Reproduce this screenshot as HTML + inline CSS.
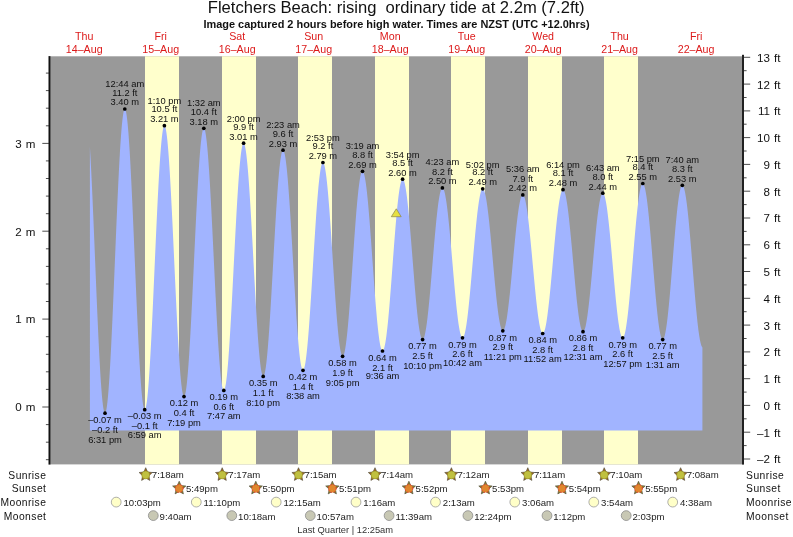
<!DOCTYPE html><html><head><meta charset="utf-8"><title>Fletchers Beach tide</title>
<style>html,body{margin:0;padding:0;background:#fff}svg{display:block;will-change:transform}text{font-family:"Liberation Sans",Arial,Helvetica,sans-serif}</style></head><body>
<svg width="793" height="537" viewBox="0 0 793 537">
<rect width="793" height="537" fill="#fff"/>
<rect x="50" y="56.3" width="692" height="408.1" fill="#999999"/>
<rect x="145.0" y="56.3" width="34.0" height="408.1" fill="#ffffcc"/>
<rect x="222.0" y="56.3" width="34.0" height="408.1" fill="#ffffcc"/>
<rect x="298.0" y="56.3" width="34.0" height="408.1" fill="#ffffcc"/>
<rect x="375.0" y="56.3" width="34.0" height="408.1" fill="#ffffcc"/>
<rect x="451.0" y="56.3" width="34.0" height="408.1" fill="#ffffcc"/>
<rect x="528.0" y="56.3" width="34.0" height="408.1" fill="#ffffcc"/>
<rect x="604.0" y="56.3" width="34.0" height="408.1" fill="#ffffcc"/>
<path d="M89.9 430.6 L89.9 146.7 L90.4 155.4 L90.9 164.8 L91.4 174.7 L91.9 185.2 L92.4 196.1 L92.9 207.5 L93.4 219.1 L93.9 231.0 L94.4 243.1 L94.9 255.3 L95.4 267.4 L95.9 279.6 L96.4 291.6 L96.9 303.4 L97.4 314.9 L97.9 326.1 L98.4 336.9 L98.9 347.2 L99.4 356.9 L99.9 366.0 L100.4 374.4 L100.9 382.2 L101.4 389.1 L101.9 395.2 L102.4 400.5 L102.9 404.9 L103.4 408.4 L103.9 411.0 L104.4 412.6 L104.9 413.2 L105.4 412.9 L105.9 411.6 L106.4 409.4 L106.9 406.3 L107.4 402.2 L107.9 397.3 L108.4 391.5 L108.9 384.8 L109.4 377.4 L109.9 369.3 L110.4 360.5 L110.9 351.1 L111.4 341.1 L111.9 330.6 L112.4 319.7 L112.9 308.3 L113.4 296.7 L113.9 284.9 L114.4 273.0 L114.9 260.9 L115.4 248.9 L115.9 236.9 L116.4 225.1 L116.9 213.5 L117.4 202.2 L117.9 191.3 L118.4 180.8 L118.9 170.8 L119.4 161.4 L119.9 152.6 L120.4 144.5 L120.9 137.2 L121.4 130.6 L121.9 124.8 L122.4 119.9 L122.9 115.9 L123.4 112.7 L123.9 110.6 L124.4 109.3 L124.9 109.0 L125.4 109.7 L125.9 111.3 L126.4 113.8 L126.9 117.2 L127.4 121.5 L127.9 126.7 L128.4 132.6 L128.9 139.4 L129.4 146.9 L129.9 155.1 L130.4 164.0 L130.9 173.5 L131.4 183.4 L131.9 193.9 L132.4 204.8 L132.9 216.0 L133.4 227.4 L133.9 239.1 L134.4 250.9 L134.9 262.8 L135.4 274.6 L135.9 286.3 L136.4 297.9 L136.9 309.2 L137.4 320.3 L137.9 330.9 L138.4 341.1 L138.9 350.8 L139.4 359.9 L139.9 368.4 L140.4 376.2 L140.9 383.3 L141.4 389.6 L141.9 395.1 L142.4 399.8 L142.9 403.6 L143.4 406.5 L143.9 408.5 L144.4 409.5 L144.9 409.7 L145.4 408.9 L145.9 407.2 L146.4 404.6 L146.9 401.2 L147.4 396.9 L147.9 391.8 L148.4 385.9 L148.9 379.3 L149.4 371.9 L149.9 363.9 L150.4 355.3 L150.9 346.1 L151.4 336.5 L151.9 326.3 L152.4 315.9 L152.9 305.1 L153.4 294.0 L153.9 282.8 L154.4 271.6 L154.9 260.2 L155.4 249.0 L155.9 237.8 L156.4 226.9 L156.9 216.2 L157.4 205.8 L157.9 195.8 L158.4 186.3 L158.9 177.3 L159.4 168.8 L159.9 161.0 L160.4 153.9 L160.9 147.5 L161.4 141.9 L161.9 137.0 L162.4 133.0 L162.9 129.8 L163.4 127.6 L163.9 126.2 L164.4 125.7 L164.9 126.1 L165.4 127.3 L165.9 129.5 L166.4 132.4 L166.9 136.2 L167.4 140.8 L167.9 146.2 L168.4 152.3 L168.9 159.1 L169.4 166.5 L169.9 174.6 L170.4 183.2 L170.9 192.3 L171.4 201.9 L171.9 211.8 L172.4 222.1 L172.9 232.6 L173.4 243.3 L173.9 254.1 L174.4 265.0 L174.9 275.8 L175.4 286.5 L175.9 297.1 L176.4 307.4 L176.9 317.5 L177.4 327.1 L177.9 336.4 L178.4 345.2 L178.9 353.4 L179.4 361.1 L179.9 368.1 L180.4 374.4 L180.9 380.0 L181.4 384.8 L181.9 388.8 L182.4 392.0 L182.9 394.4 L183.4 395.9 L183.9 396.6 L184.4 396.3 L184.9 395.3 L185.4 393.4 L185.9 390.7 L186.4 387.2 L186.9 382.9 L187.4 377.8 L187.9 372.0 L188.4 365.6 L188.9 358.4 L189.4 350.7 L189.9 342.4 L190.4 333.7 L190.9 324.4 L191.4 314.8 L191.9 304.9 L192.4 294.7 L192.9 284.3 L193.4 273.7 L193.9 263.1 L194.4 252.5 L194.9 241.9 L195.4 231.5 L195.9 221.2 L196.4 211.3 L196.9 201.6 L197.4 192.3 L197.9 183.5 L198.4 175.1 L198.9 167.4 L199.4 160.2 L199.9 153.6 L200.4 147.7 L200.9 142.6 L201.4 138.2 L201.9 134.6 L202.4 131.8 L202.9 129.8 L203.4 128.6 L203.9 128.3 L204.4 128.8 L204.9 130.1 L205.4 132.3 L205.9 135.2 L206.4 138.9 L206.9 143.3 L207.4 148.5 L207.9 154.3 L208.4 160.8 L208.9 167.9 L209.4 175.6 L209.9 183.8 L210.4 192.5 L210.9 201.6 L211.4 211.0 L211.9 220.8 L212.4 230.7 L212.9 240.9 L213.4 251.2 L213.9 261.5 L214.4 271.8 L214.9 282.1 L215.4 292.2 L215.9 302.1 L216.4 311.7 L216.9 321.0 L217.4 329.9 L217.9 338.4 L218.4 346.4 L218.9 353.8 L219.4 360.7 L219.9 366.9 L220.4 372.5 L220.9 377.4 L221.4 381.5 L221.9 384.9 L222.4 387.5 L222.9 389.2 L223.4 390.2 L223.9 390.4 L224.4 389.8 L224.9 388.4 L225.4 386.3 L225.9 383.4 L226.4 379.7 L226.9 375.4 L227.4 370.4 L227.9 364.7 L228.4 358.4 L228.9 351.6 L229.4 344.2 L229.9 336.3 L230.4 328.0 L230.9 319.3 L231.4 310.2 L231.9 300.9 L232.4 291.4 L232.9 281.7 L233.4 272.0 L233.9 262.2 L234.4 252.4 L234.9 242.7 L235.4 233.2 L235.9 223.9 L236.4 214.8 L236.9 206.1 L237.4 197.8 L237.9 189.9 L238.4 182.5 L238.9 175.6 L239.4 169.3 L239.9 163.6 L240.4 158.5 L240.9 154.1 L241.4 150.5 L241.9 147.5 L242.4 145.3 L242.9 143.9 L243.4 143.3 L243.9 143.4 L244.4 144.2 L244.9 145.8 L245.4 148.2 L245.9 151.2 L246.4 154.9 L246.9 159.4 L247.4 164.4 L247.9 170.1 L248.4 176.3 L248.9 183.0 L249.4 190.3 L249.9 198.0 L250.4 206.1 L250.9 214.5 L251.4 223.2 L251.9 232.2 L252.4 241.3 L252.9 250.6 L253.4 259.9 L253.9 269.2 L254.4 278.4 L254.9 287.6 L255.4 296.5 L255.9 305.2 L256.4 313.7 L256.9 321.8 L257.4 329.5 L257.9 336.7 L258.4 343.4 L258.9 349.7 L259.4 355.3 L259.9 360.4 L260.4 364.7 L260.9 368.5 L261.4 371.5 L261.9 373.8 L262.4 375.4 L262.9 376.3 L263.4 376.4 L263.9 375.8 L264.4 374.5 L264.9 372.4 L265.4 369.7 L265.9 366.4 L266.4 362.4 L266.9 357.7 L267.4 352.5 L267.9 346.7 L268.4 340.4 L268.9 333.6 L269.4 326.4 L269.9 318.7 L270.4 310.8 L270.9 302.5 L271.4 293.9 L271.9 285.2 L272.4 276.4 L272.9 267.4 L273.4 258.5 L273.9 249.5 L274.4 240.7 L274.9 232.0 L275.4 223.5 L275.9 215.2 L276.4 207.3 L276.9 199.7 L277.4 192.5 L277.9 185.7 L278.4 179.4 L278.9 173.7 L279.4 168.5 L279.9 163.9 L280.4 160.0 L280.9 156.7 L281.4 154.0 L281.9 152.1 L282.4 150.8 L282.9 150.3 L283.4 150.4 L283.9 151.2 L284.4 152.8 L284.9 154.9 L285.4 157.8 L285.9 161.3 L286.4 165.4 L286.9 170.0 L287.4 175.3 L287.9 181.0 L288.4 187.3 L288.9 194.0 L289.4 201.2 L289.9 208.6 L290.4 216.5 L290.9 224.5 L291.4 232.9 L291.9 241.3 L292.4 249.9 L292.9 258.6 L293.4 267.3 L293.9 275.9 L294.4 284.4 L294.9 292.8 L295.4 301.0 L295.9 308.9 L296.4 316.5 L296.9 323.8 L297.4 330.7 L297.9 337.1 L298.4 343.1 L298.9 348.5 L299.4 353.4 L299.9 357.8 L300.4 361.5 L300.9 364.5 L301.4 367.0 L301.9 368.8 L302.4 369.9 L302.9 370.3 L303.4 370.0 L303.9 369.1 L304.4 367.6 L304.9 365.4 L305.4 362.7 L305.9 359.3 L306.4 355.3 L306.9 350.8 L307.4 345.8 L307.9 340.3 L308.4 334.3 L308.9 327.9 L309.4 321.1 L309.9 313.9 L310.4 306.5 L310.9 298.8 L311.4 291.0 L311.9 282.9 L312.4 274.8 L312.9 266.6 L313.4 258.4 L313.9 250.3 L314.4 242.3 L314.9 234.4 L315.4 226.7 L315.9 219.3 L316.4 212.1 L316.9 205.3 L317.4 198.9 L317.9 192.9 L318.4 187.3 L318.9 182.3 L319.4 177.7 L319.9 173.7 L320.4 170.3 L320.9 167.5 L321.4 165.3 L321.9 163.7 L322.4 162.8 L322.9 162.5 L323.4 162.8 L323.9 163.8 L324.4 165.3 L324.9 167.5 L325.4 170.2 L325.9 173.5 L326.4 177.3 L326.9 181.7 L327.4 186.5 L327.9 191.8 L328.4 197.5 L328.9 203.7 L329.4 210.1 L329.9 216.9 L330.4 224.0 L330.9 231.2 L331.4 238.7 L331.9 246.3 L332.4 253.9 L332.9 261.6 L333.4 269.3 L333.9 276.9 L334.4 284.4 L334.9 291.8 L335.4 298.9 L335.9 305.8 L336.4 312.4 L336.9 318.7 L337.4 324.6 L337.9 330.1 L338.4 335.1 L338.9 339.7 L339.4 343.7 L339.9 347.2 L340.4 350.2 L340.9 352.6 L341.4 354.4 L341.9 355.6 L342.4 356.2 L342.9 356.2 L343.4 355.6 L343.9 354.4 L344.4 352.7 L344.9 350.4 L345.4 347.5 L345.9 344.2 L346.4 340.3 L346.9 336.0 L347.4 331.2 L347.9 326.0 L348.4 320.4 L348.9 314.4 L349.4 308.2 L349.9 301.6 L350.4 294.8 L350.9 287.9 L351.4 280.7 L351.9 273.5 L352.4 266.2 L352.9 258.9 L353.4 251.6 L353.9 244.4 L354.4 237.3 L354.9 230.4 L355.4 223.7 L355.9 217.2 L356.4 211.1 L356.9 205.2 L357.4 199.8 L357.9 194.7 L358.4 190.0 L358.9 185.9 L359.4 182.2 L359.9 179.0 L360.4 176.3 L360.9 174.2 L361.4 172.7 L361.9 171.7 L362.4 171.3 L362.9 171.4 L363.4 172.2 L363.9 173.4 L364.4 175.2 L364.9 177.6 L365.4 180.4 L365.9 183.7 L366.4 187.6 L366.9 191.8 L367.4 196.5 L367.9 201.6 L368.4 207.1 L368.9 212.9 L369.4 219.0 L369.9 225.3 L370.4 231.9 L370.9 238.6 L371.4 245.5 L371.9 252.5 L372.4 259.5 L372.9 266.6 L373.4 273.6 L373.9 280.5 L374.4 287.3 L374.9 294.0 L375.4 300.4 L375.9 306.7 L376.4 312.6 L376.9 318.2 L377.4 323.5 L377.9 328.3 L378.4 332.8 L378.9 336.8 L379.4 340.4 L379.9 343.5 L380.4 346.0 L380.9 348.1 L381.4 349.6 L381.9 350.6 L382.4 351.0 L382.9 350.8 L383.4 350.2 L383.9 349.0 L384.4 347.3 L384.9 345.1 L385.4 342.4 L385.9 339.3 L386.4 335.7 L386.9 331.6 L387.4 327.2 L387.9 322.4 L388.4 317.2 L388.9 311.7 L389.4 305.9 L389.9 299.9 L390.4 293.6 L390.9 287.2 L391.4 280.7 L391.9 274.0 L392.4 267.3 L392.9 260.6 L393.4 253.9 L393.9 247.3 L394.4 240.7 L394.9 234.4 L395.4 228.2 L395.9 222.3 L396.4 216.6 L396.9 211.2 L397.4 206.1 L397.9 201.4 L398.4 197.1 L398.9 193.2 L399.4 189.7 L399.9 186.7 L400.4 184.2 L400.9 182.2 L401.4 180.7 L401.9 179.7 L402.4 179.2 L402.9 179.2 L403.4 179.8 L403.9 180.8 L404.4 182.3 L404.9 184.3 L405.4 186.8 L405.9 189.7 L406.4 193.0 L406.9 196.8 L407.4 200.9 L407.9 205.4 L408.4 210.2 L408.9 215.4 L409.4 220.8 L409.9 226.4 L410.4 232.3 L410.9 238.3 L411.4 244.4 L411.9 250.7 L412.4 257.0 L412.9 263.3 L413.4 269.6 L413.9 275.8 L414.4 281.9 L414.9 287.9 L415.4 293.7 L415.9 299.3 L416.4 304.6 L416.9 309.7 L417.4 314.4 L417.9 318.8 L418.4 322.9 L418.9 326.5 L419.4 329.8 L419.9 332.6 L420.4 334.9 L420.9 336.8 L421.4 338.2 L421.9 339.1 L422.4 339.6 L422.9 339.5 L423.4 338.9 L423.9 337.9 L424.4 336.4 L424.9 334.5 L425.4 332.1 L425.9 329.3 L426.4 326.1 L426.9 322.5 L427.4 318.5 L427.9 314.1 L428.4 309.5 L428.9 304.6 L429.4 299.4 L429.9 294.0 L430.4 288.4 L430.9 282.6 L431.4 276.7 L431.9 270.8 L432.4 264.8 L432.9 258.8 L433.4 252.8 L433.9 246.9 L434.4 241.1 L434.9 235.4 L435.4 229.9 L435.9 224.7 L436.4 219.6 L436.9 214.9 L437.4 210.5 L437.9 206.3 L438.4 202.6 L438.9 199.2 L439.4 196.3 L439.9 193.8 L440.4 191.7 L440.9 190.0 L441.4 188.9 L441.9 188.2 L442.4 187.9 L442.9 188.2 L443.4 188.9 L443.9 190.0 L444.4 191.6 L444.9 193.6 L445.4 196.0 L445.9 198.9 L446.4 202.1 L446.9 205.7 L447.4 209.7 L447.9 214.0 L448.4 218.5 L448.9 223.4 L449.4 228.5 L449.9 233.8 L450.4 239.2 L450.9 244.9 L451.4 250.6 L451.9 256.4 L452.4 262.2 L452.9 268.1 L453.4 273.9 L453.9 279.6 L454.4 285.3 L454.9 290.8 L455.4 296.1 L455.9 301.3 L456.4 306.2 L456.9 310.8 L457.4 315.1 L457.9 319.2 L458.4 322.9 L458.9 326.2 L459.4 329.1 L459.9 331.7 L460.4 333.8 L460.9 335.5 L461.4 336.7 L461.9 337.5 L462.4 337.8 L462.9 337.7 L463.4 337.1 L463.9 336.1 L464.4 334.7 L464.9 332.8 L465.4 330.5 L465.9 327.8 L466.4 324.7 L466.9 321.2 L467.4 317.4 L467.9 313.2 L468.4 308.8 L468.9 304.0 L469.4 299.1 L469.9 293.9 L470.4 288.5 L470.9 283.0 L471.4 277.3 L471.9 271.6 L472.4 265.8 L472.9 260.0 L473.4 254.2 L473.9 248.5 L474.4 242.9 L474.9 237.4 L475.4 232.0 L475.9 226.9 L476.4 221.9 L476.9 217.2 L477.4 212.8 L477.9 208.7 L478.4 204.9 L478.9 201.5 L479.4 198.5 L479.9 195.8 L480.4 193.6 L480.9 191.7 L481.4 190.3 L481.9 189.4 L482.4 188.9 L482.9 188.8 L483.4 189.2 L483.9 190.0 L484.4 191.3 L484.9 192.9 L485.4 195.0 L485.9 197.4 L486.4 200.3 L486.9 203.5 L487.4 207.0 L487.9 210.9 L488.4 215.0 L488.9 219.5 L489.4 224.1 L489.9 229.0 L490.4 234.1 L490.9 239.4 L491.4 244.7 L491.9 250.2 L492.4 255.7 L492.9 261.2 L493.4 266.8 L493.9 272.2 L494.4 277.7 L494.9 283.0 L495.4 288.1 L495.9 293.1 L496.4 297.9 L496.9 302.5 L497.4 306.8 L497.9 310.8 L498.4 314.5 L498.9 317.8 L499.4 320.8 L499.9 323.5 L500.4 325.7 L500.9 327.6 L501.4 329.0 L501.9 330.1 L502.4 330.7 L502.9 330.8 L503.4 330.6 L503.9 329.9 L504.4 328.8 L504.9 327.3 L505.4 325.4 L505.9 323.1 L506.4 320.4 L506.9 317.4 L507.4 314.0 L507.9 310.3 L508.4 306.3 L508.9 302.1 L509.4 297.6 L509.9 292.9 L510.4 288.0 L510.9 282.9 L511.4 277.7 L511.9 272.5 L512.4 267.1 L512.9 261.8 L513.4 256.4 L513.9 251.1 L514.4 245.9 L514.9 240.8 L515.4 235.8 L515.9 231.0 L516.4 226.3 L516.9 221.9 L517.4 217.8 L517.9 213.9 L518.4 210.4 L518.9 207.1 L519.4 204.2 L519.9 201.7 L520.4 199.6 L520.9 197.8 L521.4 196.5 L521.9 195.6 L522.4 195.0 L522.9 195.0 L523.4 195.3 L523.9 196.1 L524.4 197.2 L524.9 198.8 L525.4 200.8 L525.9 203.2 L526.4 206.0 L526.9 209.1 L527.4 212.6 L527.9 216.4 L528.4 220.5 L528.9 224.8 L529.4 229.4 L529.9 234.2 L530.4 239.2 L530.9 244.4 L531.4 249.7 L531.9 255.0 L532.4 260.5 L532.9 265.9 L533.4 271.3 L533.9 276.7 L534.4 282.0 L534.9 287.2 L535.4 292.3 L535.9 297.2 L536.4 301.9 L536.9 306.3 L537.4 310.5 L537.9 314.4 L538.4 318.0 L538.9 321.3 L539.4 324.2 L539.9 326.7 L540.4 328.9 L540.9 330.6 L541.4 331.9 L541.9 332.9 L542.4 333.4 L542.9 333.4 L543.4 333.1 L543.9 332.3 L544.4 331.1 L544.9 329.4 L545.4 327.4 L545.9 325.0 L546.4 322.2 L546.9 319.0 L547.4 315.5 L547.9 311.6 L548.4 307.5 L548.9 303.1 L549.4 298.4 L549.9 293.5 L550.4 288.5 L550.9 283.2 L551.4 277.8 L551.9 272.4 L552.4 266.9 L552.9 261.3 L553.4 255.7 L553.9 250.2 L554.4 244.8 L554.9 239.4 L555.4 234.2 L555.9 229.1 L556.4 224.3 L556.9 219.6 L557.4 215.2 L557.9 211.1 L558.4 207.3 L558.9 203.8 L559.4 200.7 L559.9 197.9 L560.4 195.5 L560.9 193.5 L561.4 191.9 L561.9 190.8 L562.4 190.0 L562.9 189.7 L563.4 189.8 L563.9 190.4 L564.4 191.3 L564.9 192.7 L565.4 194.6 L565.9 196.8 L566.4 199.4 L566.9 202.4 L567.4 205.8 L567.9 209.5 L568.4 213.5 L568.9 217.8 L569.4 222.4 L569.9 227.2 L570.4 232.2 L570.9 237.4 L571.4 242.7 L571.9 248.1 L572.4 253.6 L572.9 259.2 L573.4 264.8 L573.9 270.3 L574.4 275.8 L574.9 281.2 L575.4 286.4 L575.9 291.6 L576.4 296.5 L576.9 301.2 L577.4 305.6 L577.9 309.8 L578.4 313.7 L578.9 317.2 L579.4 320.4 L579.9 323.2 L580.4 325.7 L580.9 327.7 L581.4 329.3 L581.9 330.6 L582.4 331.3 L582.9 331.7 L583.4 331.6 L583.9 331.1 L584.4 330.1 L584.9 328.7 L585.4 326.9 L585.9 324.7 L586.4 322.1 L586.9 319.1 L587.4 315.8 L587.9 312.1 L588.4 308.1 L588.9 303.8 L589.4 299.3 L589.9 294.5 L590.4 289.5 L590.9 284.4 L591.4 279.1 L591.9 273.7 L592.4 268.2 L592.9 262.7 L593.4 257.2 L593.9 251.8 L594.4 246.4 L594.9 241.1 L595.4 235.9 L595.9 230.9 L596.4 226.1 L596.9 221.5 L597.4 217.2 L597.9 213.2 L598.4 209.5 L598.9 206.1 L599.4 203.1 L599.9 200.4 L600.4 198.2 L600.9 196.3 L601.4 194.9 L601.9 193.9 L602.4 193.3 L602.9 193.2 L603.4 193.5 L603.9 194.3 L604.4 195.5 L604.9 197.1 L605.4 199.2 L605.9 201.7 L606.4 204.6 L606.9 207.8 L607.4 211.4 L607.9 215.4 L608.4 219.7 L608.9 224.2 L609.4 229.1 L609.9 234.1 L610.4 239.4 L610.9 244.8 L611.4 250.3 L611.9 255.9 L612.4 261.6 L612.9 267.3 L613.4 273.1 L613.9 278.7 L614.4 284.3 L614.9 289.7 L615.4 295.1 L615.9 300.2 L616.4 305.1 L616.9 309.7 L617.4 314.1 L617.9 318.2 L618.4 321.9 L618.9 325.3 L619.4 328.4 L619.9 331.0 L620.4 333.2 L620.9 335.0 L621.4 336.4 L621.9 337.3 L622.4 337.8 L622.9 337.8 L623.4 337.3 L623.9 336.4 L624.4 335.0 L624.9 333.2 L625.4 330.9 L625.9 328.2 L626.4 325.1 L626.9 321.6 L627.4 317.7 L627.9 313.4 L628.4 308.9 L628.9 304.0 L629.4 298.9 L629.9 293.6 L630.4 288.0 L630.9 282.3 L631.4 276.4 L631.9 270.5 L632.4 264.5 L632.9 258.4 L633.4 252.4 L633.9 246.4 L634.4 240.6 L634.9 234.8 L635.4 229.2 L635.9 223.8 L636.4 218.6 L636.9 213.7 L637.4 209.0 L637.9 204.7 L638.4 200.7 L638.9 197.1 L639.4 193.9 L639.9 191.1 L640.4 188.7 L640.9 186.8 L641.4 185.3 L641.9 184.2 L642.4 183.7 L642.9 183.6 L643.4 183.9 L643.9 184.8 L644.4 186.2 L644.9 188.0 L645.4 190.2 L645.9 192.9 L646.4 196.0 L646.9 199.6 L647.4 203.5 L647.9 207.8 L648.4 212.4 L648.9 217.3 L649.4 222.5 L649.9 227.9 L650.4 233.5 L650.9 239.3 L651.4 245.3 L651.9 251.3 L652.4 257.4 L652.9 263.6 L653.4 269.7 L653.9 275.8 L654.4 281.7 L654.9 287.6 L655.4 293.3 L655.9 298.8 L656.4 304.1 L656.9 309.1 L657.4 313.8 L657.9 318.2 L658.4 322.2 L658.9 325.9 L659.4 329.2 L659.9 332.0 L660.4 334.4 L660.9 336.4 L661.4 337.9 L661.9 338.9 L662.4 339.5 L662.9 339.6 L663.4 339.1 L663.9 338.2 L664.4 336.8 L664.9 334.9 L665.4 332.6 L665.9 329.8 L666.4 326.6 L666.9 322.9 L667.4 318.9 L667.9 314.5 L668.4 309.8 L668.9 304.8 L669.4 299.5 L669.9 293.9 L670.4 288.2 L670.9 282.3 L671.4 276.3 L671.9 270.1 L672.4 264.0 L672.9 257.8 L673.4 251.6 L673.9 245.6 L674.4 239.6 L674.9 233.8 L675.4 228.1 L675.9 222.7 L676.4 217.5 L676.9 212.7 L677.4 208.1 L677.9 203.9 L678.4 200.1 L678.9 196.6 L679.4 193.6 L679.9 191.0 L680.4 188.9 L680.9 187.3 L681.4 186.1 L681.9 185.5 L682.4 185.3 L682.9 185.6 L683.4 186.4 L683.9 187.7 L684.4 189.4 L684.9 191.6 L685.4 194.2 L685.9 197.2 L686.4 200.7 L686.9 204.5 L687.4 208.7 L687.9 213.3 L688.4 218.1 L688.9 223.3 L689.4 228.7 L689.9 234.3 L690.4 240.1 L690.9 246.1 L691.4 252.1 L691.9 258.3 L692.4 264.5 L692.9 270.8 L693.4 277.0 L693.9 283.1 L694.4 289.1 L694.9 295.0 L695.4 300.8 L695.9 306.3 L696.4 311.6 L696.9 316.6 L697.4 321.4 L697.9 325.8 L698.4 329.9 L698.9 333.5 L699.4 336.8 L699.9 339.7 L700.4 342.1 L700.9 344.1 L701.4 345.7 L701.9 346.8 L702.4 347.4 L702.4 430.6 Z" fill="#a1b4ff"/>
<rect x="48.5" y="56.1" width="1.9" height="408.5" fill="#111"/>
<rect x="742" y="54.8" width="2" height="409.8" fill="#222"/>
<line x1="45.9" y1="459.7" x2="49" y2="459.7" stroke="#222" stroke-width="0.8"/>
<line x1="45.9" y1="442.2" x2="49" y2="442.2" stroke="#222" stroke-width="0.8"/>
<line x1="45.9" y1="424.6" x2="49" y2="424.6" stroke="#222" stroke-width="0.8"/>
<line x1="42.3" y1="407.0" x2="49" y2="407.0" stroke="#222" stroke-width="0.8"/>
<text x="35.4" y="411.3" font-size="11.6" word-spacing="0.8" text-anchor="end" fill="#111">0 m</text>
<line x1="45.9" y1="389.4" x2="49" y2="389.4" stroke="#222" stroke-width="0.8"/>
<line x1="45.9" y1="371.8" x2="49" y2="371.8" stroke="#222" stroke-width="0.8"/>
<line x1="45.9" y1="354.3" x2="49" y2="354.3" stroke="#222" stroke-width="0.8"/>
<line x1="45.9" y1="336.7" x2="49" y2="336.7" stroke="#222" stroke-width="0.8"/>
<line x1="42.3" y1="319.1" x2="49" y2="319.1" stroke="#222" stroke-width="0.8"/>
<text x="35.4" y="323.4" font-size="11.6" word-spacing="0.8" text-anchor="end" fill="#111">1 m</text>
<line x1="45.9" y1="301.5" x2="49" y2="301.5" stroke="#222" stroke-width="0.8"/>
<line x1="45.9" y1="284.0" x2="49" y2="284.0" stroke="#222" stroke-width="0.8"/>
<line x1="45.9" y1="266.4" x2="49" y2="266.4" stroke="#222" stroke-width="0.8"/>
<line x1="45.9" y1="248.8" x2="49" y2="248.8" stroke="#222" stroke-width="0.8"/>
<line x1="42.3" y1="231.2" x2="49" y2="231.2" stroke="#222" stroke-width="0.8"/>
<text x="35.4" y="235.5" font-size="11.6" word-spacing="0.8" text-anchor="end" fill="#111">2 m</text>
<line x1="45.9" y1="213.7" x2="49" y2="213.7" stroke="#222" stroke-width="0.8"/>
<line x1="45.9" y1="196.1" x2="49" y2="196.1" stroke="#222" stroke-width="0.8"/>
<line x1="45.9" y1="178.5" x2="49" y2="178.5" stroke="#222" stroke-width="0.8"/>
<line x1="45.9" y1="160.9" x2="49" y2="160.9" stroke="#222" stroke-width="0.8"/>
<line x1="42.3" y1="143.4" x2="49" y2="143.4" stroke="#222" stroke-width="0.8"/>
<text x="35.4" y="147.7" font-size="11.6" word-spacing="0.8" text-anchor="end" fill="#111">3 m</text>
<line x1="45.9" y1="125.8" x2="49" y2="125.8" stroke="#222" stroke-width="0.8"/>
<line x1="45.9" y1="108.2" x2="49" y2="108.2" stroke="#222" stroke-width="0.8"/>
<line x1="45.9" y1="90.6" x2="49" y2="90.6" stroke="#222" stroke-width="0.8"/>
<line x1="45.9" y1="73.1" x2="49" y2="73.1" stroke="#222" stroke-width="0.8"/>
<line x1="743" y1="459.0" x2="750.2" y2="459.0" stroke="#222" stroke-width="0.8"/>
<text x="780.4" y="463.4" font-size="11.6" word-spacing="0.8" text-anchor="end" fill="#111">–2 ft</text>
<line x1="743" y1="445.6" x2="746.6" y2="445.6" stroke="#222" stroke-width="0.8"/>
<line x1="743" y1="432.2" x2="750.2" y2="432.2" stroke="#222" stroke-width="0.8"/>
<text x="780.4" y="436.6" font-size="11.6" word-spacing="0.8" text-anchor="end" fill="#111">–1 ft</text>
<line x1="743" y1="418.8" x2="746.6" y2="418.8" stroke="#222" stroke-width="0.8"/>
<line x1="743" y1="405.4" x2="750.2" y2="405.4" stroke="#222" stroke-width="0.8"/>
<text x="780.4" y="409.8" font-size="11.6" word-spacing="0.8" text-anchor="end" fill="#111">0 ft</text>
<line x1="743" y1="392.1" x2="746.6" y2="392.1" stroke="#222" stroke-width="0.8"/>
<line x1="743" y1="378.7" x2="750.2" y2="378.7" stroke="#222" stroke-width="0.8"/>
<text x="780.4" y="383.1" font-size="11.6" word-spacing="0.8" text-anchor="end" fill="#111">1 ft</text>
<line x1="743" y1="365.3" x2="746.6" y2="365.3" stroke="#222" stroke-width="0.8"/>
<line x1="743" y1="351.9" x2="750.2" y2="351.9" stroke="#222" stroke-width="0.8"/>
<text x="780.4" y="356.3" font-size="11.6" word-spacing="0.8" text-anchor="end" fill="#111">2 ft</text>
<line x1="743" y1="338.5" x2="746.6" y2="338.5" stroke="#222" stroke-width="0.8"/>
<line x1="743" y1="325.1" x2="750.2" y2="325.1" stroke="#222" stroke-width="0.8"/>
<text x="780.4" y="329.5" font-size="11.6" word-spacing="0.8" text-anchor="end" fill="#111">3 ft</text>
<line x1="743" y1="311.7" x2="746.6" y2="311.7" stroke="#222" stroke-width="0.8"/>
<line x1="743" y1="298.3" x2="750.2" y2="298.3" stroke="#222" stroke-width="0.8"/>
<text x="780.4" y="302.7" font-size="11.6" word-spacing="0.8" text-anchor="end" fill="#111">4 ft</text>
<line x1="743" y1="284.9" x2="746.6" y2="284.9" stroke="#222" stroke-width="0.8"/>
<line x1="743" y1="271.5" x2="750.2" y2="271.5" stroke="#222" stroke-width="0.8"/>
<text x="780.4" y="275.9" font-size="11.6" word-spacing="0.8" text-anchor="end" fill="#111">5 ft</text>
<line x1="743" y1="258.1" x2="746.6" y2="258.1" stroke="#222" stroke-width="0.8"/>
<line x1="743" y1="244.8" x2="750.2" y2="244.8" stroke="#222" stroke-width="0.8"/>
<text x="780.4" y="249.2" font-size="11.6" word-spacing="0.8" text-anchor="end" fill="#111">6 ft</text>
<line x1="743" y1="231.4" x2="746.6" y2="231.4" stroke="#222" stroke-width="0.8"/>
<line x1="743" y1="218.0" x2="750.2" y2="218.0" stroke="#222" stroke-width="0.8"/>
<text x="780.4" y="222.4" font-size="11.6" word-spacing="0.8" text-anchor="end" fill="#111">7 ft</text>
<line x1="743" y1="204.6" x2="746.6" y2="204.6" stroke="#222" stroke-width="0.8"/>
<line x1="743" y1="191.2" x2="750.2" y2="191.2" stroke="#222" stroke-width="0.8"/>
<text x="780.4" y="195.6" font-size="11.6" word-spacing="0.8" text-anchor="end" fill="#111">8 ft</text>
<line x1="743" y1="177.8" x2="746.6" y2="177.8" stroke="#222" stroke-width="0.8"/>
<line x1="743" y1="164.4" x2="750.2" y2="164.4" stroke="#222" stroke-width="0.8"/>
<text x="780.4" y="168.8" font-size="11.6" word-spacing="0.8" text-anchor="end" fill="#111">9 ft</text>
<line x1="743" y1="151.0" x2="746.6" y2="151.0" stroke="#222" stroke-width="0.8"/>
<line x1="743" y1="137.6" x2="750.2" y2="137.6" stroke="#222" stroke-width="0.8"/>
<text x="780.4" y="142.0" font-size="11.6" word-spacing="0.8" text-anchor="end" fill="#111">10 ft</text>
<line x1="743" y1="124.2" x2="746.6" y2="124.2" stroke="#222" stroke-width="0.8"/>
<line x1="743" y1="110.9" x2="750.2" y2="110.9" stroke="#222" stroke-width="0.8"/>
<text x="780.4" y="115.3" font-size="11.6" word-spacing="0.8" text-anchor="end" fill="#111">11 ft</text>
<line x1="743" y1="97.5" x2="746.6" y2="97.5" stroke="#222" stroke-width="0.8"/>
<line x1="743" y1="84.1" x2="750.2" y2="84.1" stroke="#222" stroke-width="0.8"/>
<text x="780.4" y="88.5" font-size="11.6" word-spacing="0.8" text-anchor="end" fill="#111">12 ft</text>
<line x1="743" y1="70.7" x2="746.6" y2="70.7" stroke="#222" stroke-width="0.8"/>
<line x1="743" y1="57.3" x2="750.2" y2="57.3" stroke="#222" stroke-width="0.8"/>
<text x="780.4" y="61.7" font-size="11.6" word-spacing="0.8" text-anchor="end" fill="#111">13 ft</text>
<text x="396.2" y="13.1" font-size="16.58" text-anchor="middle" fill="#111" style="white-space:pre">Fletchers Beach: rising  ordinary tide at 2.2m (7.2ft)</text>
<text x="396.5" y="27.9" font-size="10.94" font-weight="bold" text-anchor="middle" fill="#111">Image captured 2 hours before high water. Times are NZST (UTC +12.0hrs)</text>
<text x="84.2" y="40.2" font-size="10.67" text-anchor="middle" fill="#dc1a1a">Thu</text>
<text x="84.2" y="52.7" font-size="10.67" text-anchor="middle" fill="#dc1a1a">14–Aug</text>
<text x="160.7" y="40.2" font-size="10.67" text-anchor="middle" fill="#dc1a1a">Fri</text>
<text x="160.7" y="52.7" font-size="10.67" text-anchor="middle" fill="#dc1a1a">15–Aug</text>
<text x="237.2" y="40.2" font-size="10.67" text-anchor="middle" fill="#dc1a1a">Sat</text>
<text x="237.2" y="52.7" font-size="10.67" text-anchor="middle" fill="#dc1a1a">16–Aug</text>
<text x="313.7" y="40.2" font-size="10.67" text-anchor="middle" fill="#dc1a1a">Sun</text>
<text x="313.7" y="52.7" font-size="10.67" text-anchor="middle" fill="#dc1a1a">17–Aug</text>
<text x="390.2" y="40.2" font-size="10.67" text-anchor="middle" fill="#dc1a1a">Mon</text>
<text x="390.2" y="52.7" font-size="10.67" text-anchor="middle" fill="#dc1a1a">18–Aug</text>
<text x="466.7" y="40.2" font-size="10.67" text-anchor="middle" fill="#dc1a1a">Tue</text>
<text x="466.7" y="52.7" font-size="10.67" text-anchor="middle" fill="#dc1a1a">19–Aug</text>
<text x="543.2" y="40.2" font-size="10.67" text-anchor="middle" fill="#dc1a1a">Wed</text>
<text x="543.2" y="52.7" font-size="10.67" text-anchor="middle" fill="#dc1a1a">20–Aug</text>
<text x="619.6" y="40.2" font-size="10.67" text-anchor="middle" fill="#dc1a1a">Thu</text>
<text x="619.6" y="52.7" font-size="10.67" text-anchor="middle" fill="#dc1a1a">21–Aug</text>
<text x="696.1" y="40.2" font-size="10.67" text-anchor="middle" fill="#dc1a1a">Fri</text>
<text x="696.1" y="52.7" font-size="10.67" text-anchor="middle" fill="#dc1a1a">22–Aug</text>
<text x="105.0" y="422.9" font-size="9.33" text-anchor="middle" fill="#111">–0.07 m</text>
<text x="105.0" y="432.8" font-size="9.33" text-anchor="middle" fill="#111">–0.2 ft</text>
<text x="105.0" y="442.7" font-size="9.33" text-anchor="middle" fill="#111">6:31 pm</text>
<circle cx="105.0" cy="413.2" r="1.85" fill="#000"/>
<text x="124.8" y="86.5" font-size="9.33" text-anchor="middle" fill="#111">12:44 am</text>
<text x="124.8" y="95.6" font-size="9.33" text-anchor="middle" fill="#111">11.2 ft</text>
<text x="124.8" y="105.3" font-size="9.33" text-anchor="middle" fill="#111">3.40 m</text>
<circle cx="124.8" cy="109.0" r="1.85" fill="#000"/>
<text x="144.7" y="419.4" font-size="9.33" text-anchor="middle" fill="#111">–0.03 m</text>
<text x="144.7" y="429.3" font-size="9.33" text-anchor="middle" fill="#111">–0.1 ft</text>
<text x="144.7" y="438.1" font-size="9.33" text-anchor="middle" fill="#111">6:59 am</text>
<circle cx="144.7" cy="409.7" r="1.85" fill="#000"/>
<text x="164.4" y="104.4" font-size="9.33" text-anchor="middle" fill="#111">1:10 pm</text>
<text x="164.4" y="112.3" font-size="9.33" text-anchor="middle" fill="#111">10.5 ft</text>
<text x="164.4" y="122.0" font-size="9.33" text-anchor="middle" fill="#111">3.21 m</text>
<circle cx="164.4" cy="125.7" r="1.85" fill="#000"/>
<text x="184.0" y="406.3" font-size="9.33" text-anchor="middle" fill="#111">0.12 m</text>
<text x="184.0" y="416.2" font-size="9.33" text-anchor="middle" fill="#111">0.4 ft</text>
<text x="184.0" y="426.1" font-size="9.33" text-anchor="middle" fill="#111">7:19 pm</text>
<circle cx="184.0" cy="396.6" r="1.85" fill="#000"/>
<text x="203.8" y="105.8" font-size="9.33" text-anchor="middle" fill="#111">1:32 am</text>
<text x="203.8" y="114.9" font-size="9.33" text-anchor="middle" fill="#111">10.4 ft</text>
<text x="203.8" y="124.6" font-size="9.33" text-anchor="middle" fill="#111">3.18 m</text>
<circle cx="203.8" cy="128.3" r="1.85" fill="#000"/>
<text x="223.8" y="400.1" font-size="9.33" text-anchor="middle" fill="#111">0.19 m</text>
<text x="223.8" y="410.0" font-size="9.33" text-anchor="middle" fill="#111">0.6 ft</text>
<text x="223.8" y="418.8" font-size="9.33" text-anchor="middle" fill="#111">7:47 am</text>
<circle cx="223.8" cy="390.4" r="1.85" fill="#000"/>
<text x="243.6" y="121.9" font-size="9.33" text-anchor="middle" fill="#111">2:00 pm</text>
<text x="243.6" y="129.8" font-size="9.33" text-anchor="middle" fill="#111">9.9 ft</text>
<text x="243.6" y="139.5" font-size="9.33" text-anchor="middle" fill="#111">3.01 m</text>
<circle cx="243.6" cy="143.2" r="1.85" fill="#000"/>
<text x="263.2" y="386.1" font-size="9.33" text-anchor="middle" fill="#111">0.35 m</text>
<text x="263.2" y="396.0" font-size="9.33" text-anchor="middle" fill="#111">1.1 ft</text>
<text x="263.2" y="405.9" font-size="9.33" text-anchor="middle" fill="#111">8:10 pm</text>
<circle cx="263.2" cy="376.4" r="1.85" fill="#000"/>
<text x="283.0" y="127.7" font-size="9.33" text-anchor="middle" fill="#111">2:23 am</text>
<text x="283.0" y="136.8" font-size="9.33" text-anchor="middle" fill="#111">9.6 ft</text>
<text x="283.0" y="146.5" font-size="9.33" text-anchor="middle" fill="#111">2.93 m</text>
<circle cx="283.0" cy="150.2" r="1.85" fill="#000"/>
<text x="303.0" y="380.0" font-size="9.33" text-anchor="middle" fill="#111">0.42 m</text>
<text x="303.0" y="389.9" font-size="9.33" text-anchor="middle" fill="#111">1.4 ft</text>
<text x="303.0" y="398.7" font-size="9.33" text-anchor="middle" fill="#111">8:38 am</text>
<circle cx="303.0" cy="370.3" r="1.85" fill="#000"/>
<text x="322.9" y="141.2" font-size="9.33" text-anchor="middle" fill="#111">2:53 pm</text>
<text x="322.9" y="149.1" font-size="9.33" text-anchor="middle" fill="#111">9.2 ft</text>
<text x="322.9" y="158.8" font-size="9.33" text-anchor="middle" fill="#111">2.79 m</text>
<circle cx="322.9" cy="162.5" r="1.85" fill="#000"/>
<text x="342.6" y="366.0" font-size="9.33" text-anchor="middle" fill="#111">0.58 m</text>
<text x="342.6" y="375.9" font-size="9.33" text-anchor="middle" fill="#111">1.9 ft</text>
<text x="342.6" y="385.8" font-size="9.33" text-anchor="middle" fill="#111">9:05 pm</text>
<circle cx="342.6" cy="356.3" r="1.85" fill="#000"/>
<text x="362.5" y="148.8" font-size="9.33" text-anchor="middle" fill="#111">3:19 am</text>
<text x="362.5" y="157.9" font-size="9.33" text-anchor="middle" fill="#111">8.8 ft</text>
<text x="362.5" y="167.6" font-size="9.33" text-anchor="middle" fill="#111">2.69 m</text>
<circle cx="362.5" cy="171.3" r="1.85" fill="#000"/>
<text x="382.5" y="360.7" font-size="9.33" text-anchor="middle" fill="#111">0.64 m</text>
<text x="382.5" y="370.6" font-size="9.33" text-anchor="middle" fill="#111">2.1 ft</text>
<text x="382.5" y="379.4" font-size="9.33" text-anchor="middle" fill="#111">9:36 am</text>
<circle cx="382.5" cy="351.0" r="1.85" fill="#000"/>
<text x="402.6" y="157.9" font-size="9.33" text-anchor="middle" fill="#111">3:54 pm</text>
<text x="402.6" y="165.8" font-size="9.33" text-anchor="middle" fill="#111">8.5 ft</text>
<text x="402.6" y="175.5" font-size="9.33" text-anchor="middle" fill="#111">2.60 m</text>
<circle cx="402.6" cy="179.2" r="1.85" fill="#000"/>
<text x="422.6" y="349.3" font-size="9.33" text-anchor="middle" fill="#111">0.77 m</text>
<text x="422.6" y="359.2" font-size="9.33" text-anchor="middle" fill="#111">2.5 ft</text>
<text x="422.6" y="369.1" font-size="9.33" text-anchor="middle" fill="#111">10:10 pm</text>
<circle cx="422.6" cy="339.6" r="1.85" fill="#000"/>
<text x="442.4" y="165.4" font-size="9.33" text-anchor="middle" fill="#111">4:23 am</text>
<text x="442.4" y="174.5" font-size="9.33" text-anchor="middle" fill="#111">8.2 ft</text>
<text x="442.4" y="184.2" font-size="9.33" text-anchor="middle" fill="#111">2.50 m</text>
<circle cx="442.4" cy="187.9" r="1.85" fill="#000"/>
<text x="462.5" y="347.5" font-size="9.33" text-anchor="middle" fill="#111">0.79 m</text>
<text x="462.5" y="357.4" font-size="9.33" text-anchor="middle" fill="#111">2.6 ft</text>
<text x="462.5" y="366.2" font-size="9.33" text-anchor="middle" fill="#111">10:42 am</text>
<circle cx="462.5" cy="337.8" r="1.85" fill="#000"/>
<text x="482.7" y="167.5" font-size="9.33" text-anchor="middle" fill="#111">5:02 pm</text>
<text x="482.7" y="175.4" font-size="9.33" text-anchor="middle" fill="#111">8.2 ft</text>
<text x="482.7" y="185.1" font-size="9.33" text-anchor="middle" fill="#111">2.49 m</text>
<circle cx="482.7" cy="188.8" r="1.85" fill="#000"/>
<text x="502.8" y="340.5" font-size="9.33" text-anchor="middle" fill="#111">0.87 m</text>
<text x="502.8" y="350.4" font-size="9.33" text-anchor="middle" fill="#111">2.9 ft</text>
<text x="502.8" y="360.3" font-size="9.33" text-anchor="middle" fill="#111">11:21 pm</text>
<circle cx="502.8" cy="330.8" r="1.85" fill="#000"/>
<text x="522.8" y="172.4" font-size="9.33" text-anchor="middle" fill="#111">5:36 am</text>
<text x="522.8" y="181.5" font-size="9.33" text-anchor="middle" fill="#111">7.9 ft</text>
<text x="522.8" y="191.2" font-size="9.33" text-anchor="middle" fill="#111">2.42 m</text>
<circle cx="522.8" cy="194.9" r="1.85" fill="#000"/>
<text x="542.7" y="343.2" font-size="9.33" text-anchor="middle" fill="#111">0.84 m</text>
<text x="542.7" y="353.1" font-size="9.33" text-anchor="middle" fill="#111">2.8 ft</text>
<text x="542.7" y="361.9" font-size="9.33" text-anchor="middle" fill="#111">11:52 am</text>
<circle cx="542.7" cy="333.5" r="1.85" fill="#000"/>
<text x="563.0" y="168.4" font-size="9.33" text-anchor="middle" fill="#111">6:14 pm</text>
<text x="563.0" y="176.3" font-size="9.33" text-anchor="middle" fill="#111">8.1 ft</text>
<text x="563.0" y="186.0" font-size="9.33" text-anchor="middle" fill="#111">2.48 m</text>
<circle cx="563.0" cy="189.7" r="1.85" fill="#000"/>
<text x="583.0" y="341.4" font-size="9.33" text-anchor="middle" fill="#111">0.86 m</text>
<text x="583.0" y="351.3" font-size="9.33" text-anchor="middle" fill="#111">2.8 ft</text>
<text x="583.0" y="360.1" font-size="9.33" text-anchor="middle" fill="#111">12:31 am</text>
<circle cx="583.0" cy="331.7" r="1.85" fill="#000"/>
<text x="602.8" y="170.7" font-size="9.33" text-anchor="middle" fill="#111">6:43 am</text>
<text x="602.8" y="179.8" font-size="9.33" text-anchor="middle" fill="#111">8.0 ft</text>
<text x="602.8" y="189.5" font-size="9.33" text-anchor="middle" fill="#111">2.44 m</text>
<circle cx="602.8" cy="193.2" r="1.85" fill="#000"/>
<text x="622.7" y="347.5" font-size="9.33" text-anchor="middle" fill="#111">0.79 m</text>
<text x="622.7" y="357.4" font-size="9.33" text-anchor="middle" fill="#111">2.6 ft</text>
<text x="622.7" y="367.3" font-size="9.33" text-anchor="middle" fill="#111">12:57 pm</text>
<circle cx="622.7" cy="337.8" r="1.85" fill="#000"/>
<text x="642.8" y="162.2" font-size="9.33" text-anchor="middle" fill="#111">7:15 pm</text>
<text x="642.8" y="170.1" font-size="9.33" text-anchor="middle" fill="#111">8.4 ft</text>
<text x="642.8" y="179.8" font-size="9.33" text-anchor="middle" fill="#111">2.55 m</text>
<circle cx="642.8" cy="183.5" r="1.85" fill="#000"/>
<text x="662.7" y="349.3" font-size="9.33" text-anchor="middle" fill="#111">0.77 m</text>
<text x="662.7" y="359.2" font-size="9.33" text-anchor="middle" fill="#111">2.5 ft</text>
<text x="662.7" y="368.0" font-size="9.33" text-anchor="middle" fill="#111">1:31 am</text>
<circle cx="662.7" cy="339.6" r="1.85" fill="#000"/>
<text x="682.3" y="162.8" font-size="9.33" text-anchor="middle" fill="#111">7:40 am</text>
<text x="682.3" y="171.9" font-size="9.33" text-anchor="middle" fill="#111">8.3 ft</text>
<text x="682.3" y="181.6" font-size="9.33" text-anchor="middle" fill="#111">2.53 m</text>
<circle cx="682.3" cy="185.3" r="1.85" fill="#000"/>
<polygon points="396.3,208.8 391.3,216.7 401.2,216.7" fill="#e6e040" stroke="#8a8250" stroke-width="0.7"/>
<text x="46.4" y="478.6" font-size="10.3" letter-spacing="0.45" text-anchor="end" fill="#111">Sunrise</text>
<text x="746.1" y="478.6" font-size="10.3" letter-spacing="0.45" fill="#111">Sunrise</text>
<text x="46.4" y="492.3" font-size="10.3" letter-spacing="0.45" text-anchor="end" fill="#111">Sunset</text>
<text x="746.1" y="492.3" font-size="10.3" letter-spacing="0.45" fill="#111">Sunset</text>
<text x="46.4" y="505.9" font-size="10.3" letter-spacing="0.45" text-anchor="end" fill="#111">Moonrise</text>
<text x="746.1" y="505.9" font-size="10.3" letter-spacing="0.45" fill="#111">Moonrise</text>
<text x="46.4" y="519.5" font-size="10.3" letter-spacing="0.45" text-anchor="end" fill="#111">Moonset</text>
<text x="746.1" y="519.5" font-size="10.3" letter-spacing="0.45" fill="#111">Moonset</text>
<polygon points="145.7,467.7 147.7,472.0 152.4,472.5 148.9,475.7 149.8,480.4 145.7,478.0 141.6,480.4 142.6,475.7 139.1,472.5 143.8,472.0" fill="#a0661e" stroke="#4c4c3a" stroke-width="0.6"/>
<circle cx="145.7" cy="474.9" r="4.0" fill="#c0c040" stroke="#8c8420" stroke-width="0.5"/>
<text x="151.8" y="478.4" font-size="9.6" fill="#222">7:18am</text>
<polygon points="222.2,467.7 224.1,472.0 228.8,472.5 225.3,475.7 226.3,480.4 222.2,478.0 218.0,480.4 219.0,475.7 215.5,472.5 220.2,472.0" fill="#a0661e" stroke="#4c4c3a" stroke-width="0.6"/>
<circle cx="222.2" cy="474.9" r="4.0" fill="#c0c040" stroke="#8c8420" stroke-width="0.5"/>
<text x="228.3" y="478.4" font-size="9.6" fill="#222">7:17am</text>
<polygon points="298.5,467.7 300.5,472.0 305.2,472.5 301.7,475.7 302.7,480.4 298.5,478.0 294.4,480.4 295.4,475.7 291.9,472.5 296.6,472.0" fill="#a0661e" stroke="#4c4c3a" stroke-width="0.6"/>
<circle cx="298.5" cy="474.9" r="4.0" fill="#c0c040" stroke="#8c8420" stroke-width="0.5"/>
<text x="304.6" y="478.4" font-size="9.6" fill="#222">7:15am</text>
<polygon points="375.0,467.7 376.9,472.0 381.6,472.5 378.1,475.7 379.1,480.4 375.0,478.0 370.9,480.4 371.8,475.7 368.3,472.5 373.0,472.0" fill="#a0661e" stroke="#4c4c3a" stroke-width="0.6"/>
<circle cx="375.0" cy="474.9" r="4.0" fill="#c0c040" stroke="#8c8420" stroke-width="0.5"/>
<text x="381.1" y="478.4" font-size="9.6" fill="#222">7:14am</text>
<polygon points="451.4,467.7 453.3,472.0 458.0,472.5 454.5,475.7 455.5,480.4 451.4,478.0 447.3,480.4 448.2,475.7 444.7,472.5 449.4,472.0" fill="#a0661e" stroke="#4c4c3a" stroke-width="0.6"/>
<circle cx="451.4" cy="474.9" r="4.0" fill="#c0c040" stroke="#8c8420" stroke-width="0.5"/>
<text x="457.5" y="478.4" font-size="9.6" fill="#222">7:12am</text>
<polygon points="527.8,467.7 529.7,472.0 534.5,472.5 530.9,475.7 531.9,480.4 527.8,478.0 523.7,480.4 524.7,475.7 521.1,472.5 525.9,472.0" fill="#a0661e" stroke="#4c4c3a" stroke-width="0.6"/>
<circle cx="527.8" cy="474.9" r="4.0" fill="#c0c040" stroke="#8c8420" stroke-width="0.5"/>
<text x="533.9" y="478.4" font-size="9.6" fill="#222">7:11am</text>
<polygon points="604.2,467.7 606.2,472.0 610.9,472.5 607.4,475.7 608.4,480.4 604.2,478.0 600.1,480.4 601.1,475.7 597.6,472.5 602.3,472.0" fill="#a0661e" stroke="#4c4c3a" stroke-width="0.6"/>
<circle cx="604.2" cy="474.9" r="4.0" fill="#c0c040" stroke="#8c8420" stroke-width="0.5"/>
<text x="610.3" y="478.4" font-size="9.6" fill="#222">7:10am</text>
<polygon points="680.6,467.7 682.6,472.0 687.3,472.5 683.8,475.7 684.7,480.4 680.6,478.0 676.5,480.4 677.5,475.7 674.0,472.5 678.7,472.0" fill="#a0661e" stroke="#4c4c3a" stroke-width="0.6"/>
<circle cx="680.6" cy="474.9" r="4.0" fill="#c0c040" stroke="#8c8420" stroke-width="0.5"/>
<text x="686.7" y="478.4" font-size="9.6" fill="#222">7:08am</text>
<polygon points="179.2,481.2 181.2,485.5 185.9,486.0 182.4,489.2 183.4,493.9 179.2,491.5 175.1,493.9 176.1,489.2 172.6,486.0 177.3,485.5" fill="#8e7a2a" stroke="#4c4c3a" stroke-width="0.6"/>
<circle cx="179.2" cy="488.5" r="3.9" fill="#e0882e" stroke="#e83030" stroke-width="1" stroke-dasharray="1.3 1.9"/>
<text x="185.9" y="492.3" font-size="9.6" fill="#222">5:49pm</text>
<polygon points="255.8,481.2 257.7,485.5 262.4,486.0 258.9,489.2 259.9,493.9 255.8,491.5 251.7,493.9 252.6,489.2 249.1,486.0 253.8,485.5" fill="#8e7a2a" stroke="#4c4c3a" stroke-width="0.6"/>
<circle cx="255.8" cy="488.5" r="3.9" fill="#e0882e" stroke="#e83030" stroke-width="1" stroke-dasharray="1.3 1.9"/>
<text x="262.5" y="492.3" font-size="9.6" fill="#222">5:50pm</text>
<polygon points="332.3,481.2 334.3,485.5 339.0,486.0 335.5,489.2 336.4,493.9 332.3,491.5 328.2,493.9 329.2,489.2 325.7,486.0 330.4,485.5" fill="#8e7a2a" stroke="#4c4c3a" stroke-width="0.6"/>
<circle cx="332.3" cy="488.5" r="3.9" fill="#e0882e" stroke="#e83030" stroke-width="1" stroke-dasharray="1.3 1.9"/>
<text x="339.0" y="492.3" font-size="9.6" fill="#222">5:51pm</text>
<polygon points="408.9,481.2 410.8,485.5 415.5,486.0 412.0,489.2 413.0,493.9 408.9,491.5 404.8,493.9 405.7,489.2 402.2,486.0 406.9,485.5" fill="#8e7a2a" stroke="#4c4c3a" stroke-width="0.6"/>
<circle cx="408.9" cy="488.5" r="3.9" fill="#e0882e" stroke="#e83030" stroke-width="1" stroke-dasharray="1.3 1.9"/>
<text x="415.6" y="492.3" font-size="9.6" fill="#222">5:52pm</text>
<polygon points="485.4,481.2 487.4,485.5 492.1,486.0 488.6,489.2 489.5,493.9 485.4,491.5 481.3,493.9 482.3,489.2 478.8,486.0 483.5,485.5" fill="#8e7a2a" stroke="#4c4c3a" stroke-width="0.6"/>
<circle cx="485.4" cy="488.5" r="3.9" fill="#e0882e" stroke="#e83030" stroke-width="1" stroke-dasharray="1.3 1.9"/>
<text x="492.1" y="492.3" font-size="9.6" fill="#222">5:53pm</text>
<polygon points="562.0,481.2 563.9,485.5 568.6,486.0 565.1,489.2 566.1,493.9 562.0,491.5 557.8,493.9 558.8,489.2 555.3,486.0 560.0,485.5" fill="#8e7a2a" stroke="#4c4c3a" stroke-width="0.6"/>
<circle cx="562.0" cy="488.5" r="3.9" fill="#e0882e" stroke="#e83030" stroke-width="1" stroke-dasharray="1.3 1.9"/>
<text x="568.7" y="492.3" font-size="9.6" fill="#222">5:54pm</text>
<polygon points="638.5,481.2 640.4,485.5 645.2,486.0 641.6,489.2 642.6,493.9 638.5,491.5 634.4,493.9 635.4,489.2 631.8,486.0 636.6,485.5" fill="#8e7a2a" stroke="#4c4c3a" stroke-width="0.6"/>
<circle cx="638.5" cy="488.5" r="3.9" fill="#e0882e" stroke="#e83030" stroke-width="1" stroke-dasharray="1.3 1.9"/>
<text x="645.2" y="492.3" font-size="9.6" fill="#222">5:55pm</text>
<circle cx="116.2" cy="502.1" r="4.9" fill="#ffffc8" stroke="#9a9a9a" stroke-width="0.8"/>
<text x="123.5" y="505.7" font-size="9.6" fill="#222">10:03pm</text>
<circle cx="196.3" cy="502.1" r="4.9" fill="#ffffc8" stroke="#9a9a9a" stroke-width="0.8"/>
<text x="203.6" y="505.7" font-size="9.6" fill="#222">11:10pm</text>
<circle cx="276.2" cy="502.1" r="4.9" fill="#ffffc8" stroke="#9a9a9a" stroke-width="0.8"/>
<text x="283.5" y="505.7" font-size="9.6" fill="#222">12:15am</text>
<circle cx="356.0" cy="502.1" r="4.9" fill="#ffffc8" stroke="#9a9a9a" stroke-width="0.8"/>
<text x="363.3" y="505.7" font-size="9.6" fill="#222">1:16am</text>
<circle cx="435.5" cy="502.1" r="4.9" fill="#ffffc8" stroke="#9a9a9a" stroke-width="0.8"/>
<text x="442.8" y="505.7" font-size="9.6" fill="#222">2:13am</text>
<circle cx="514.8" cy="502.1" r="4.9" fill="#ffffc8" stroke="#9a9a9a" stroke-width="0.8"/>
<text x="522.1" y="505.7" font-size="9.6" fill="#222">3:06am</text>
<circle cx="593.8" cy="502.1" r="4.9" fill="#ffffc8" stroke="#9a9a9a" stroke-width="0.8"/>
<text x="601.1" y="505.7" font-size="9.6" fill="#222">3:54am</text>
<circle cx="672.7" cy="502.1" r="4.9" fill="#ffffc8" stroke="#9a9a9a" stroke-width="0.8"/>
<text x="680.0" y="505.7" font-size="9.6" fill="#222">4:38am</text>
<circle cx="153.3" cy="515.6" r="4.9" fill="#c8c8b4" stroke="#8a8a8a" stroke-width="0.8"/>
<text x="159.6" y="519.5" font-size="9.6" fill="#222">9:40am</text>
<circle cx="231.8" cy="515.6" r="4.9" fill="#c8c8b4" stroke="#8a8a8a" stroke-width="0.8"/>
<text x="238.1" y="519.5" font-size="9.6" fill="#222">10:18am</text>
<circle cx="310.3" cy="515.6" r="4.9" fill="#c8c8b4" stroke="#8a8a8a" stroke-width="0.8"/>
<text x="316.6" y="519.5" font-size="9.6" fill="#222">10:57am</text>
<circle cx="389.1" cy="515.6" r="4.9" fill="#c8c8b4" stroke="#8a8a8a" stroke-width="0.8"/>
<text x="395.4" y="519.5" font-size="9.6" fill="#222">11:39am</text>
<circle cx="467.9" cy="515.6" r="4.9" fill="#c8c8b4" stroke="#8a8a8a" stroke-width="0.8"/>
<text x="474.2" y="519.5" font-size="9.6" fill="#222">12:24pm</text>
<circle cx="547.0" cy="515.6" r="4.9" fill="#c8c8b4" stroke="#8a8a8a" stroke-width="0.8"/>
<text x="553.3" y="519.5" font-size="9.6" fill="#222">1:12pm</text>
<circle cx="626.2" cy="515.6" r="4.9" fill="#c8c8b4" stroke="#8a8a8a" stroke-width="0.8"/>
<text x="632.5" y="519.5" font-size="9.6" fill="#222">2:03pm</text>
<text x="297.3" y="532.6" font-size="9.33" fill="#333">Last Quarter | 12:25am</text>
</svg></body></html>
